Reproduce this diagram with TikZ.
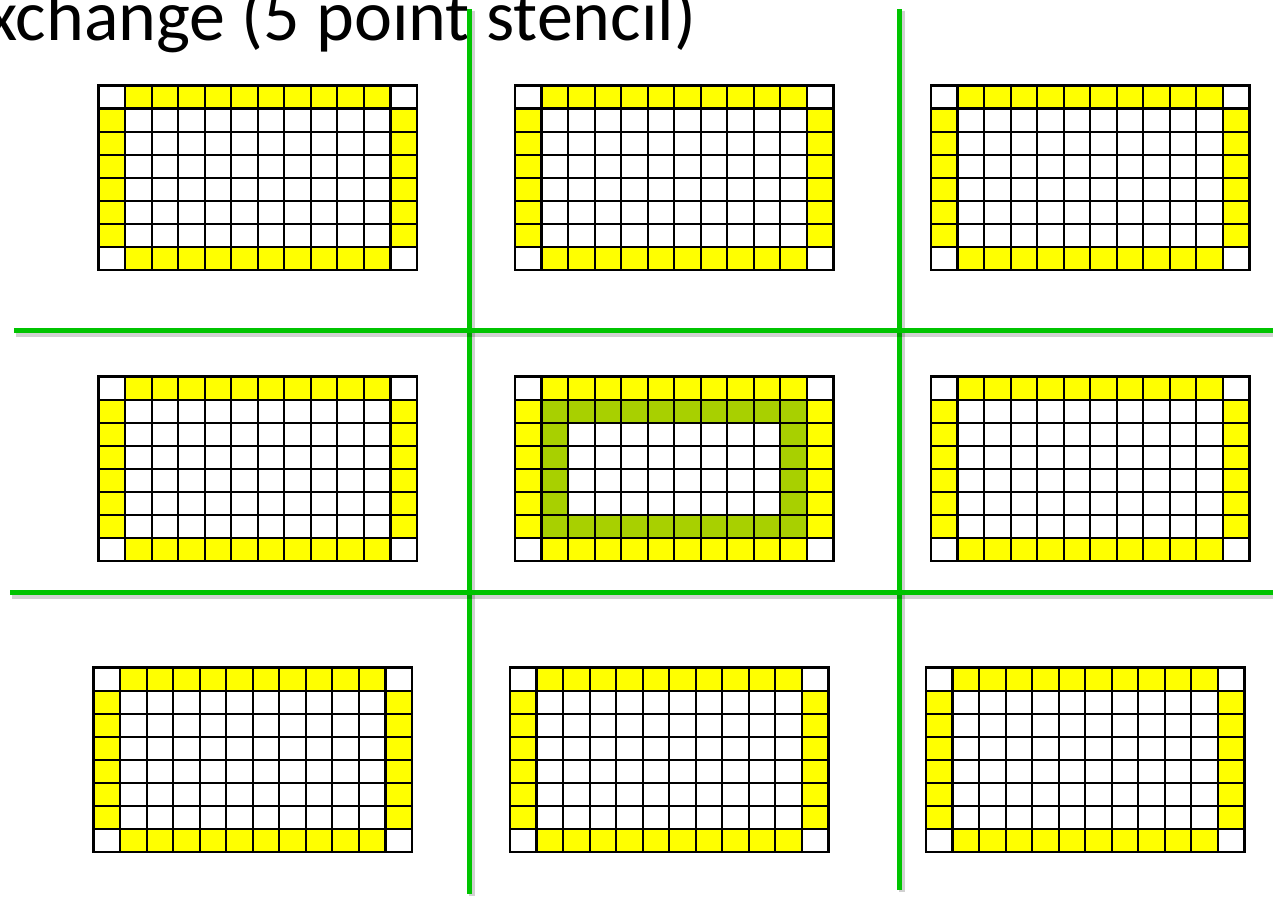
\documentclass[tikz,border=0pt]{standalone}
\usepackage{fontspec}
\setmainfont{Carlito}
\definecolor{Halo}{HTML}{FFFF00}
\definecolor{Ring}{HTML}{A8D000}
\definecolor{Split}{HTML}{00C400}
\tikzset{
  cellline/.style={draw=black, line width=1.6pt, line cap=rect},
  split/.style={draw=Split, line width=3.75pt},
  splitshade/.style={draw=black, opacity=0.18, line width=4.5pt}
}
% one block: 12 x 8 cells, halo cells on the border
\newcommand{\halogrid}[3]{%
  \begin{scope}[shift={(#1,#2)}, x=19.905pt, y=-17.295pt]
    \fill[Halo] (1,0) rectangle (11,1) (1,7) rectangle (11,8)
                (0,1) rectangle (1,7) (11,1) rectangle (12,7);
    #3
    \foreach \c in {0,...,12} \draw[cellline] (\c,0) -- (\c,8);
    \foreach \r in {0,...,8} \draw[cellline] (0,\r) -- (12,\r);
  \end{scope}}

\begin{document}
\begin{tikzpicture}[x=0.75pt, y=-0.75pt]
  \useasboundingbox (0,0) rectangle (1273,897);
  \clip (0,0) rectangle (1273,897);

  \node[anchor=base west, inner sep=0pt, font=\fontsize{54}{62}\selectfont] (title) at (-49,40) {Exchange (5 point stencil)};

  \halogrid{98.5}{85.5}{}
  \halogrid{515}{85.5}{}
  \halogrid{931}{85.5}{}
  \halogrid{98.5}{376.5}{}
  \halogrid{515}{376.5}{%
    \fill[Ring] (1,1) rectangle (11,2) (1,6) rectangle (11,7)
                (1,2) rectangle (2,6) (10,2) rectangle (11,6);}
  \halogrid{931}{376.5}{}
  \halogrid{93.5}{667.5}{}
  \halogrid{510}{667.5}{}
  \halogrid{926}{667.5}{}

  % process boundaries
  \coordinate (v1top) at (469,9);   \coordinate (v1bot) at (469,894);
  \coordinate (v2top) at (899,9);   \coordinate (v2bot) at (899,890);
  \coordinate (h1lft) at (14,330);  \coordinate (h1rgt) at (1280,330);
  \coordinate (h2lft) at (10,592);  \coordinate (h2rgt) at (1280,592);
  \draw[splitshade] ([shift={(3,2)}]v1top) -- ([shift={(3,2)}]v1bot);
  \draw[splitshade] ([shift={(3,2)}]v2top) -- ([shift={(3,2)}]v2bot);
  \draw[split] (v1top) -- (v1bot);
  \draw[split] (v2top) -- (v2bot);
  \draw[splitshade] ([shift={(2,4)}]h1lft) -- ([shift={(2,4)}]h1rgt);
  \draw[splitshade] ([shift={(2,4)}]h2lft) -- ([shift={(2,4)}]h2rgt);
  \draw[split] (h1lft) -- (h1rgt);
  \draw[split] (h2lft) -- (h2rgt);
\end{tikzpicture}
\end{document}
